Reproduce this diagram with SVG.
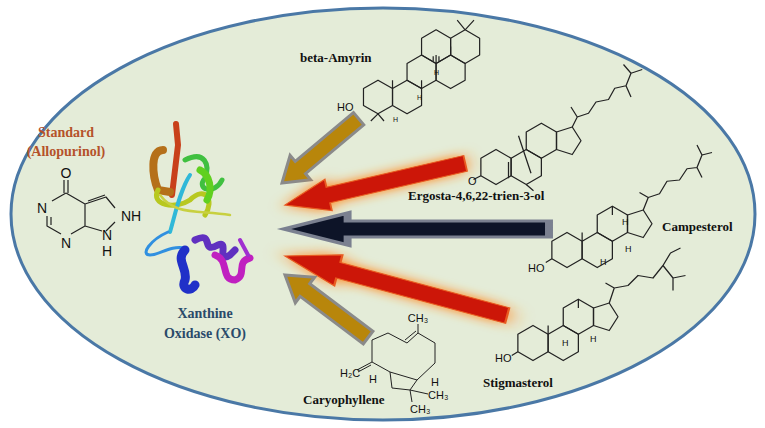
<svg xmlns="http://www.w3.org/2000/svg" width="765" height="428" viewBox="0 0 765 428">
<style>
.lbl{font-family:"Liberation Serif",serif;font-weight:bold;font-size:13px;fill:#111}
.at{font-family:"Liberation Sans",sans-serif;font-size:11px;fill:#111}
.sm{font-family:"Liberation Sans",sans-serif;font-size:7px;fill:#111}
.bond{fill:none;stroke:#222;stroke-width:1;stroke-linejoin:round}
.gold{fill:#b8860b;stroke:#8a8a8a;stroke-width:3}
.red{fill:#cc1608;stroke:#e85a20;stroke-width:1}
.navy{fill:#0d1428;stroke:#7a8090;stroke-width:3}
</style>
<defs>
<filter id="glow" x="-30%" y="-100%" width="160%" height="300%"><feGaussianBlur stdDeviation="5"/></filter>
<polygon id="arr" points="0,0 24,-16 24,-8 100,-8 100,8 24,8 24,16"/>
<polygon id="hex" points="0,-14 12.1,-7 12.1,7 0,14 -12.1,7 -12.1,-7"/>
<g id="ster">
<use href="#hex" x="0" y="0"/><use href="#hex" x="24.2" y="0"/><use href="#hex" x="36.3" y="-21"/>
<polygon points="48.4,-28 48.4,-14 61,-10 68,-21 61,-32"/>
</g>
</defs>
<rect width="765" height="428" fill="#fff"/>
<ellipse cx="383" cy="214" rx="372" ry="206" fill="#e4ecd8" stroke="#4a78a6" stroke-width="3"/>

<g id="arrows">
<g transform="translate(282,183) rotate(-40)"><use href="#arr" class="gold"/></g>
<g transform="translate(285,205) rotate(-13)"><use href="#arr" fill="#ff8a20" filter="url(#glow)" transform="scale(1.85,1.1)"/><use href="#arr" class="red" transform="scale(1.85,1)"/></g>
<g transform="translate(284,229)"><use href="#arr" class="navy" transform="scale(2.65,1)"/></g>
<g transform="translate(285,256) rotate(15)"><use href="#arr" fill="#ff8a20" filter="url(#glow)" transform="scale(2.3,1.1)"/><use href="#arr" class="red" transform="scale(2.3,1)"/></g>
<g transform="translate(285,275) rotate(37)"><use href="#arr" class="gold" transform="scale(1.04,1)"/></g>
</g>

<g id="allopurinol">
<text x="66" y="137" text-anchor="middle" class="lbl" style="fill:#b5522a;font-size:14px">Standard</text>
<text x="66" y="156" text-anchor="middle" class="lbl" style="fill:#b5522a;font-size:14px">(Allopurinol)</text>
<path class="bond" style="stroke-width:1.2" d="M66,193 L85,204 L85,226 L71,234 M61,234 L47,226 L47,216 M52,201 L66,193 M64,193 L64,180 M68,193 L68,180 M85,204 L106,197 L115,208 M88,201 L105,195 M115,222 L106,231 M102,231 L85,226 M51,217 L51,225"/>
<text x="66" y="178" text-anchor="middle" class="at" style="font-size:14px">O</text>
<text x="42" y="213" text-anchor="middle" class="at" style="font-size:14px">N</text>
<text x="66" y="248" text-anchor="middle" class="at" style="font-size:14px">N</text>
<text x="131" y="221" text-anchor="middle" class="at" style="font-size:14px">NH</text>
<text x="107" y="240" text-anchor="middle" class="at" style="font-size:14px">N</text>
<text x="107" y="256" text-anchor="middle" class="at" style="font-size:14px">H</text>
</g>

<g id="xo" fill="none" stroke-linecap="round" stroke-linejoin="round">
<path d="M176,124 L178,145 L172,195" stroke="#c8401a" stroke-width="6"/>
<path d="M163,150 C150,150 152,175 158,190 L170,192" stroke="#b5701a" stroke-width="8"/>
<path d="M158,190 C150,205 175,210 190,200 C205,185 215,200 205,215" stroke="#b8c820" stroke-width="5"/>
<path d="M185,160 C205,150 210,165 205,178 C195,190 215,195 222,180" stroke="#40c040" stroke-width="5"/>
<path d="M200,170 C210,175 213,190 207,200" stroke="#60d020" stroke-width="7"/>
<path d="M190,175 C180,190 175,215 170,232" stroke="#30b8d8" stroke-width="4"/>
<path d="M168,232 C150,240 140,255 150,255 C160,255 170,245 185,248" stroke="#3090e0" stroke-width="3"/>
<path d="M185,250 C175,260 188,268 185,280 C180,290 192,292 195,285" stroke="#2030c8" stroke-width="9"/>
<path d="M195,240 C215,230 200,255 218,245 C230,240 215,265 230,255 L235,250" stroke="#6030c0" stroke-width="7"/>
<path d="M215,255 C230,260 220,280 235,280 C248,275 235,262 250,258" stroke="#c020c0" stroke-width="7"/>
<path d="M240,240 L248,255" stroke="#a030d0" stroke-width="4"/>
<path d="M160,195 C175,215 195,210 230,215" stroke="#c8d040" stroke-width="2.5"/>
</g>
<text x="205" y="318" text-anchor="middle" class="lbl" style="fill:#2a4a6a;font-size:14px">Xanthine</text>
<text x="205" y="338" text-anchor="middle" class="lbl" style="fill:#2a4a6a;font-size:14px">Oxidase (XO)</text>

<g id="beta-amyrin">
<text x="300" y="62" class="lbl">beta-Amyrin</text>
<g transform="translate(378,97) scale(1.2)" class="bond">
<use href="#hex"/><use href="#hex" x="24.2"/><use href="#hex" x="36.3" y="-21"/><use href="#hex" x="60.5" y="-21"/><use href="#hex" x="72.6" y="-42"/><use href="#hex" x="48.4" y="-42"/>
<path d="M72.6,-56 L80,-64 M72.6,-56 L66,-64 M0,14 L-6,20 M0,14 L5,20 M12.1,-7 L12.1,-14 M36.3,-7 L36.3,-14 M48.4,-28 L48.4,-35 M46,-30 L46,-34 M50.8,-30 L50.8,-34 M60.5,-35 L60.5,-42"/>
</g>
<text x="337" y="111" class="at">HO</text>
<text x="393" y="122" class="sm">H</text>
<text x="417" y="100" class="sm">H</text>
<text x="434" y="75" class="sm">H</text>
</g>

<g id="ergosta">
<g transform="translate(496,167) scale(1.25)" class="bond">
<use href="#ster"/>
<path d="M61,-32 L65,-40 L74,-43 L80,-52 L90,-54 L95,-63 L104,-65 L108,-56 M104,-65 L108,-75 L102,-82 M108,-75 L117,-78 M65,-40 L60,-48 M18,-25 L28,5 M-12.1,7 L-18,10 M24.2,14 L30,19 M10,9 L10,-4"/>
</g>
<text x="468" y="185" class="at">O</text>
<text x="408" y="200" class="lbl">Ergosta-4,6,22-trien-3-ol</text>
</g>

<g id="campesterol">
<g transform="translate(567,250) scale(1.25)" class="bond">
<use href="#ster"/>
<path d="M61,-32 L65,-42 L74,-45 L80,-55 L90,-56 L96,-65 L104,-66 L108,-76 L116,-78 M108,-76 L104,-84 M104,-66 L108,-58 M65,-42 L58,-46 M12.1,-7 L12.1,-14 M36.3,-28 L36.3,-35 M-12.1,7 L-17,10"/>
</g>
<text x="600" y="265" class="sm" style="font-size:9px">H</text>
<text x="622" y="225" class="sm" style="font-size:9px">H</text>
<text x="625" y="252" class="sm" style="font-size:9px">H</text>
<text x="528" y="272" class="at">HO</text>
<text x="662" y="231" class="lbl">Campesterol</text>
</g>

<g id="stigmasterol">
<g transform="translate(533,343) scale(1.25)" class="bond">
<use href="#ster"/>
<path d="M61,-32 L65,-44 L76,-46 L84,-54 L96,-52 L104,-62 L112,-52 L122,-54 M112,-52 L112,-42 M104,-62 L110,-72 L118,-76 M65,-44 L58,-48 M12.1,-7 L12.1,-14 M36.3,-28 L36.3,-35 M-12.1,7 L-17,10"/>
</g>
<text x="562" y="346" class="sm" style="font-size:9px">H</text>
<text x="590" y="342" class="sm" style="font-size:9px">H</text>
<text x="495" y="362" class="at">HO</text>
<text x="483" y="387" class="lbl">Stigmasterol</text>
</g>

<g id="caryophyllene">
<path class="bond" d="M418,333 L418,324 M372,340 L388,333 L407,343 L418,333 L435,343 L435,363 L417,380 L390,372 L372,362 L372,340 M405,340 L416,331 M372,362 L357,370 M371,365 L358,372 M390,372 L392,388 L410,390 L417,380 M410,390 L428,394 M410,390 L412,402"/>
<text x="418" y="322" text-anchor="middle" class="at">CH₃</text>
<text x="340" y="377" class="at">H₂C</text>
<text x="369" y="383" class="at">H</text>
<text x="431" y="386" class="at">H</text>
<text x="428" y="399" class="at">CH₃</text>
<text x="410" y="413" class="at">CH₃</text>
<text x="303" y="404" class="lbl">Caryophyllene</text>
</g>
</svg>
